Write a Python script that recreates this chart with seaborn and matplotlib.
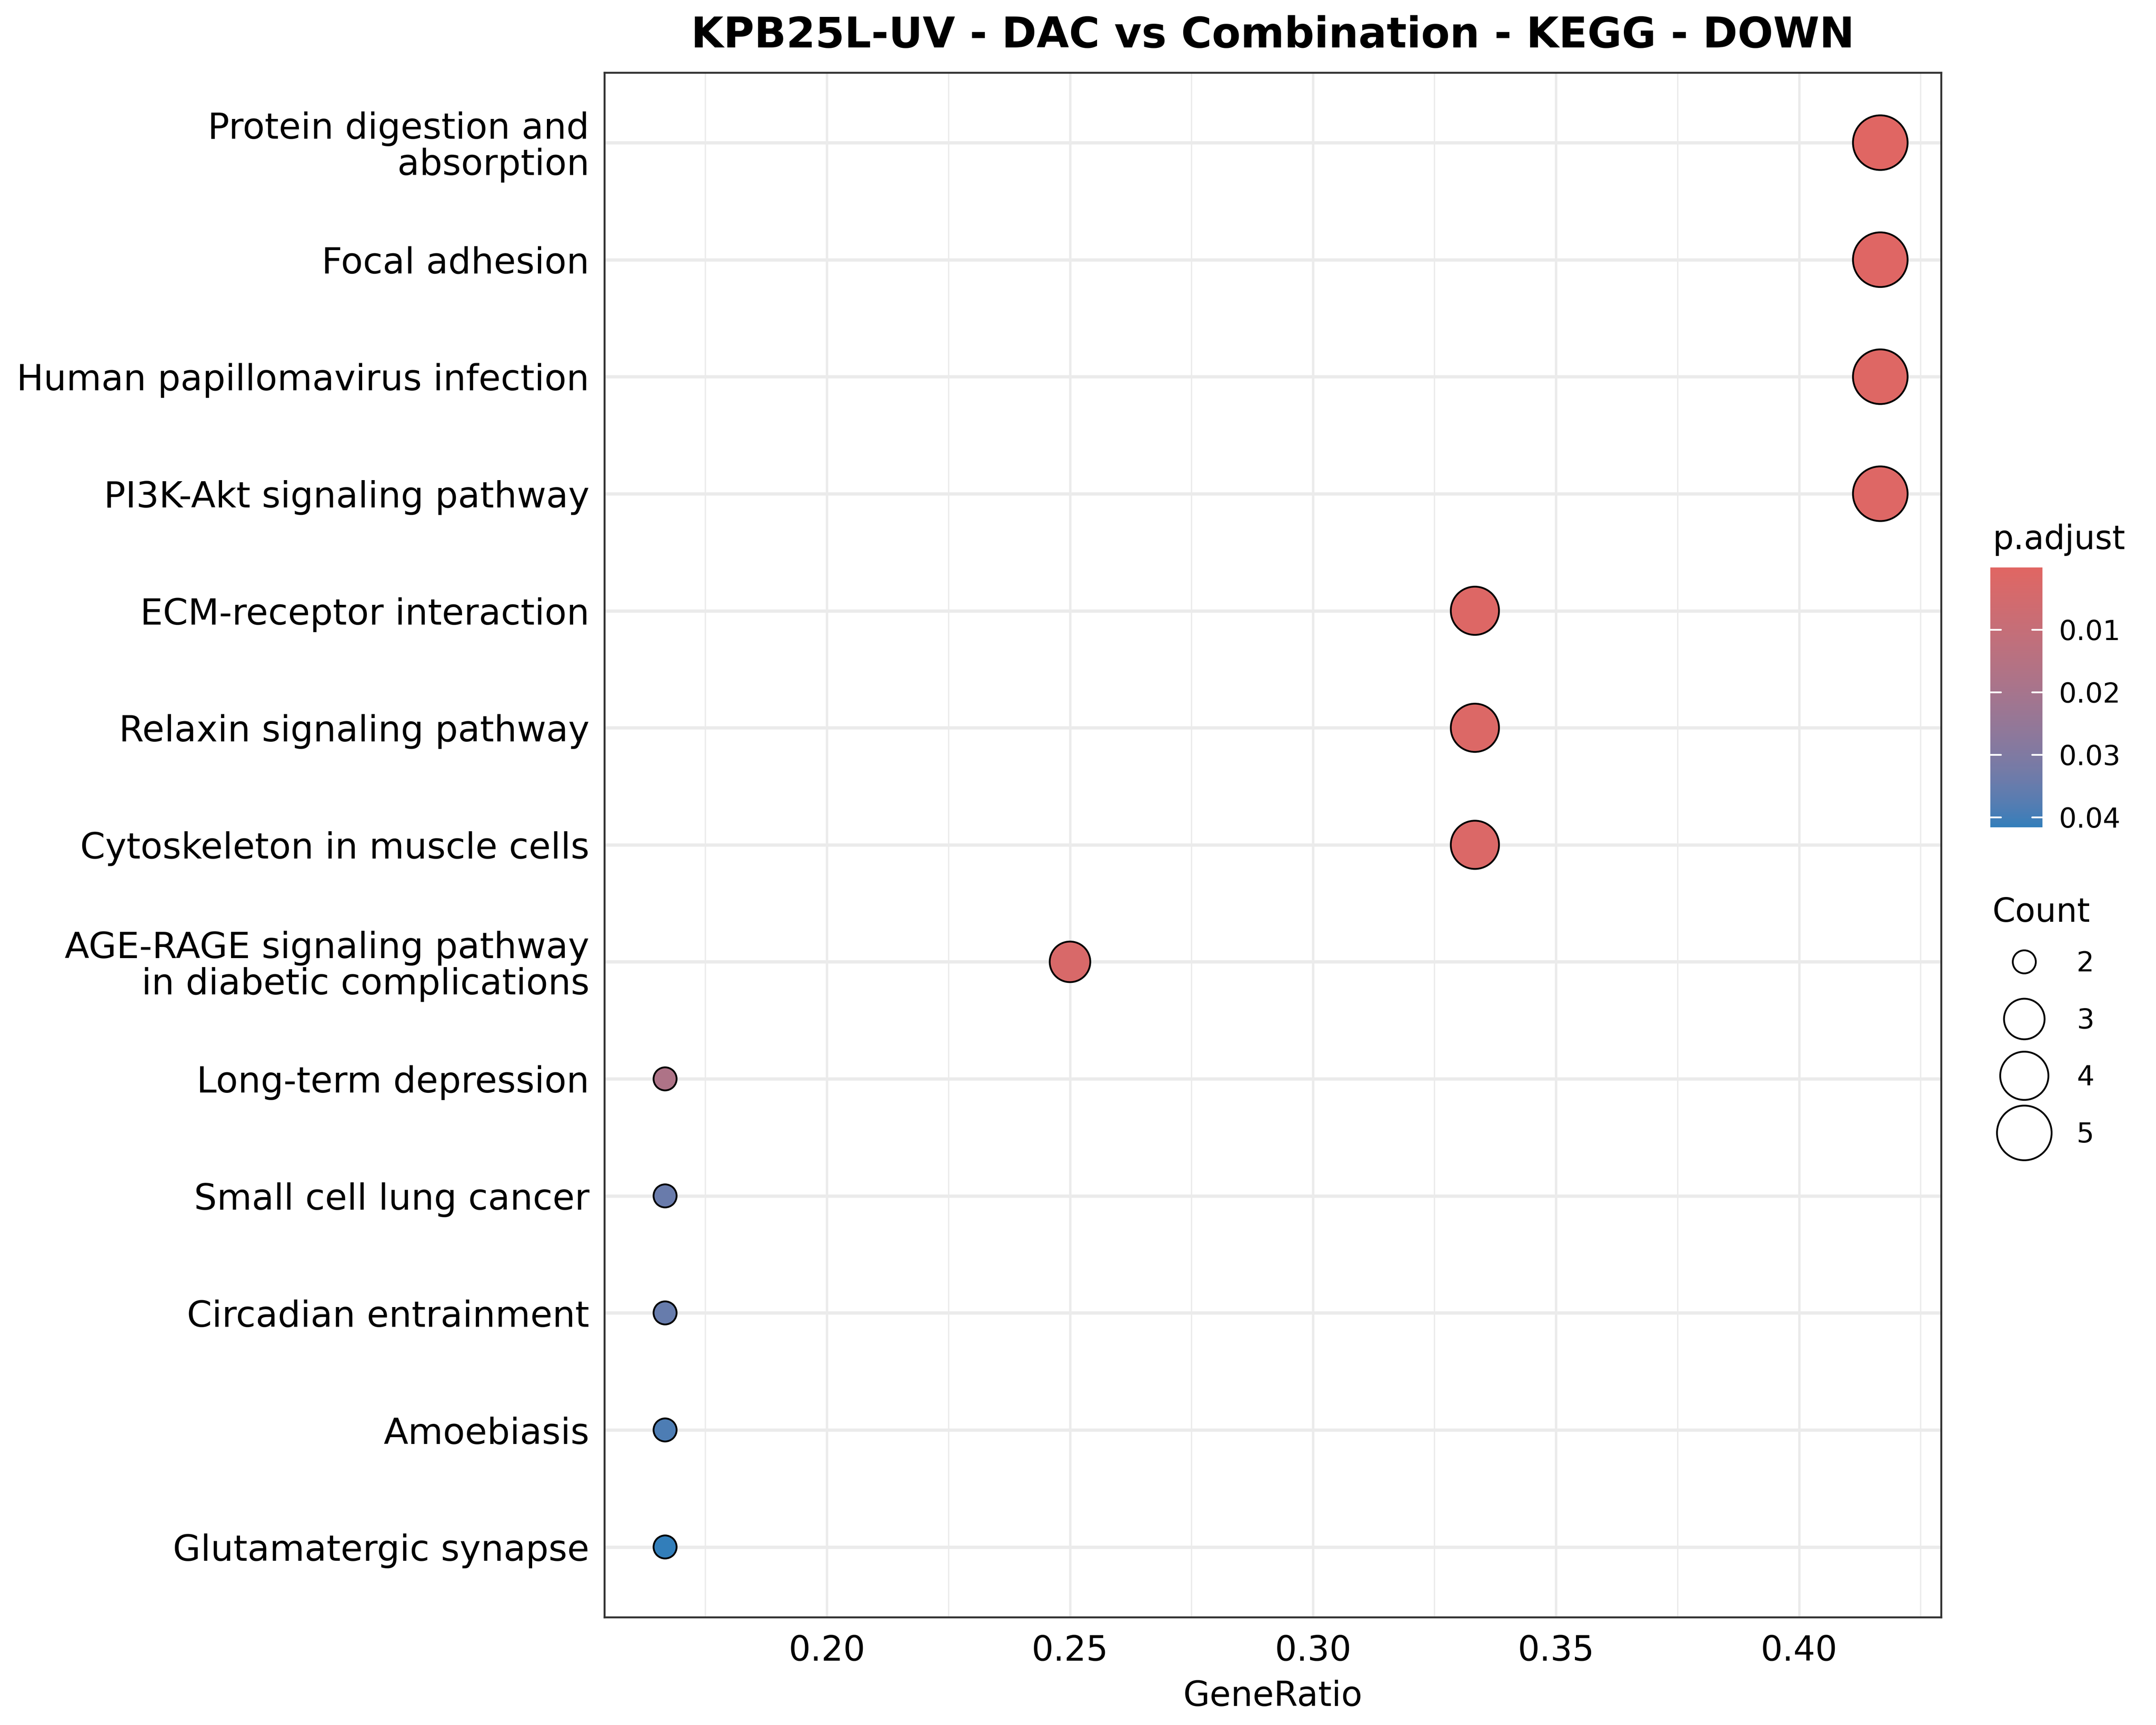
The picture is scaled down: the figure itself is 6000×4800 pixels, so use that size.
import numpy as np
import pandas as pd
import seaborn as sns
import matplotlib
import matplotlib.pyplot as plt
import matplotlib.colors as mcolors
from matplotlib.lines import Line2D
from matplotlib.ticker import MultipleLocator

# data
pathways = [
    "Protein digestion and\nabsorption",
    "Focal adhesion",
    "Human papillomavirus infection",
    "PI3K-Akt signaling pathway",
    "ECM-receptor interaction",
    "Relaxin signaling pathway",
    "Cytoskeleton in muscle cells",
    "AGE-RAGE signaling pathway\nin diabetic complications",
    "Long-term depression",
    "Small cell lung cancer",
    "Circadian entrainment",
    "Amoebiasis",
    "Glutamatergic synapse",
]
gene_ratio = [0.4167, 0.4167, 0.4167, 0.4167, 0.3333, 0.3333, 0.3333, 0.25,
              0.1667, 0.1667, 0.1667, 0.1667, 0.1667]
counts = [5, 5, 5, 5, 4, 4, 4, 3, 2, 2, 2, 2, 2]
p_adjust = [0.00006, 0.0004, 0.0008, 0.0010, 0.0012, 0.0017, 0.0020, 0.0030,
            0.0175, 0.0345, 0.0348, 0.0388, 0.0416]
cbar_ticks = [0.01, 0.02, 0.03, 0.04]
count_levels = [2, 3, 4, 5]

df = pd.DataFrame({"Description": pathways, "GeneRatio": gene_ratio,
                   "Count": counts, "p.adjust": p_adjust})


# ggplot-style gradient (interpolated in CIELAB)
def _to_lab(hexcol):
    rgb = np.array(mcolors.to_rgb(hexcol))
    lin = np.where(rgb <= 0.04045, rgb / 12.92, ((rgb + 0.055) / 1.055) ** 2.4)
    m = np.array([[0.4124, 0.3576, 0.1805], [0.2126, 0.7152, 0.0722], [0.0193, 0.1192, 0.9505]])
    xyz = m @ lin / np.array([0.95047, 1.0, 1.08883])
    f = np.where(xyz > 0.008856, np.cbrt(xyz), 7.787 * xyz + 16 / 116)
    return np.array([116 * f[1] - 16, 500 * (f[0] - f[1]), 200 * (f[1] - f[2])])


def _from_lab(lab):
    fy = (lab[0] + 16) / 116
    fx = fy + lab[1] / 500
    fz = fy - lab[2] / 200
    f = np.array([fx, fy, fz])
    xyz = np.where(f ** 3 > 0.008856, f ** 3, (f - 16 / 116) / 7.787) * np.array([0.95047, 1.0, 1.08883])
    minv = np.array([[3.2406, -1.5372, -0.4986], [-0.9689, 1.8758, 0.0415], [0.0557, -0.2040, 1.0570]])
    lin = minv @ xyz
    rgb = np.where(lin <= 0.0031308, 12.92 * lin, 1.055 * np.clip(lin, 0, None) ** (1 / 2.4) - 0.055)
    return np.clip(rgb, 0, 1)


lab_lo, lab_hi = _to_lab("#e06663"), _to_lab("#327eba")
cmap = mcolors.ListedColormap([_from_lab(lab_lo + t * (lab_hi - lab_lo)) for t in np.linspace(0, 1, 256)])
norm = mcolors.Normalize(vmin=min(p_adjust), vmax=max(p_adjust))
size_map = {2: 237, 3: 734, 4: 1037, 5: 1332}

sns.set_style("white")
plt.rcParams["font.family"] = ["DejaVu Sans"]
plt.rcParams["text.color"] = "black"
plt.rcParams["axes.labelcolor"] = "black"
plt.rcParams["xtick.color"] = "black"
plt.rcParams["ytick.color"] = "black"

fig = plt.figure(figsize=(20, 16), dpi=300)
ax = fig.add_axes([0.2803, 0.0625, 0.62, 0.8955])

sns.scatterplot(data=df, x="GeneRatio", y="Description", hue="p.adjust", palette=cmap,
                hue_norm=norm, size="Count", sizes=size_map, edgecolor="black",
                linewidth=1.2, legend=False, ax=ax, zorder=3)

ax.set_ylim(len(pathways) - 0.4, -0.6)
ax.set_xlim(0.1542, 0.4292)
ax.xaxis.set_major_locator(MultipleLocator(0.05))
ax.xaxis.set_minor_locator(MultipleLocator(0.025))
ax.grid(True, which="major", axis="y", color="#ebebeb", linewidth=2.2, zorder=0)
ax.grid(True, which="major", axis="x", color="#ebebeb", linewidth=1.6, zorder=0)
ax.grid(True, which="minor", axis="x", color="#ebebeb", linewidth=0.9, zorder=0)
ax.set_axisbelow(True)
for sp in ax.spines.values():
    sp.set_color("#333333")
    sp.set_linewidth(1.3)
ax.tick_params(axis="both", which="major", length=5.5, width=1.6, color="#333333",
               labelcolor="black", pad=6)
ax.tick_params(axis="x", which="major", labelsize=23)
ax.tick_params(axis="y", which="major", labelsize=24, pad=4.5)
ax.tick_params(axis="x", which="minor", length=0)
ax.set_xticklabels([f"{v:.2f}" for v in ax.get_xticks()])
for lbl in ax.get_yticklabels():
    lbl.set_linespacing(1.05)
ax.set_xlabel("GeneRatio", fontsize=23, labelpad=8)
ax.set_ylabel("")

fig.text(0.5903, 0.9725, "KPB25L-UV - DAC vs Combination - KEGG - DOWN",
         ha="center", va="baseline", fontsize=28, fontweight="bold")

# p.adjust colour bar
cax = fig.add_axes([0.9232, 0.5204, 0.0242, 0.1506])
sm = matplotlib.cm.ScalarMappable(cmap=cmap, norm=norm)
cbar = fig.colorbar(sm, cax=cax, ticks=cbar_ticks)
cbar.outline.set_visible(False)
cax.invert_yaxis()
cax.tick_params(length=0, labelsize=18.5, pad=11)
cax.set_yticklabels([f"{t:.2f}" for t in cbar_ticks])
for t in cbar_ticks:
    cax.axhline(t, xmin=0, xmax=0.2, color="white", linewidth=1.2)
    cax.axhline(t, xmin=0.8, xmax=1.0, color="white", linewidth=1.2)
fig.text(0.9242, 0.6817, "p.adjust", ha="left", va="baseline", fontsize=22)

# Count size legend
fig.text(0.9242, 0.4656, "Count", ha="left", va="baseline", fontsize=22)
handles = [Line2D([], [], marker="o", linestyle="", markersize=np.sqrt(size_map[c]),
                  markerfacecolor="white", markeredgecolor="black", markeredgewidth=1.2)
           for c in count_levels]
fig.legend(handles, [str(c) for c in count_levels], loc="upper left",
           bbox_to_anchor=(0.9242, 0.4490), frameon=False, fontsize=18.5,
           borderpad=0, borderaxespad=0, handlelength=2.29, handletextpad=0.74,
           labelspacing=1.1)

fig.savefig("out.png", dpi=300)
plt.close(fig)
